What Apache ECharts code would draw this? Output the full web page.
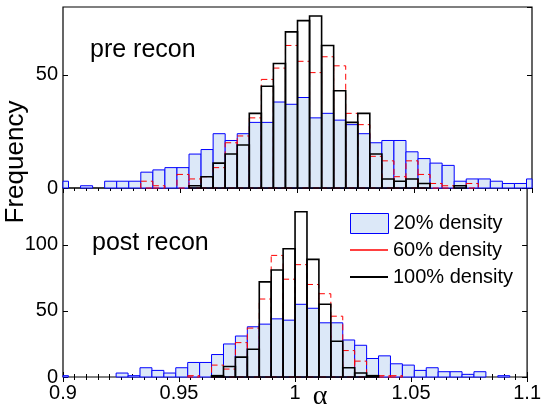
<!DOCTYPE html>
<html>
<head>
<meta charset="utf-8">
<script src="https://cdn.jsdelivr.net/npm/echarts@6/dist/echarts.min.js"></script>
<style>
  html, body { margin: 0; padding: 0; background: #fff; }
  #chart { width: 544px; height: 410px; }
</style>
</head>
<body>
<div id="chart"></div>
<script>
// Histogram bins of the recovered BAO scale alpha (40 equal-width bins)
const binStart = 0.8972;
const binWidth = 0.00514;

// Pre-reconstruction counts per bin
const preDensity20  = [3,0,1,0,3,3,3,7,8,9,9,15,17,24,21,24,29,29,38,37,40,31,33,30,28,24,20,21,21,16,13,11,10,3,4,4,3,2,2,4];
const preDensity60  = [0,0,0,0,0,0,0,3,1,0,6,4,5,9,20,23,31,48,53,63,56,51,58,54,33,28,14,12,5,12,6,2,1,0,2,0,0,0,0,0];
const preDensity100 = [0,0,0,0,0,0,0,0,0,0,0,1,5,11,15,19,33,45,55,69,74,76,63,43,29,33,15,4,3,4,2,0,0,1,0,0,0,0,0,0];

// Post-reconstruction counts per bin
const postDensity20  = [1,0,0,0,0,3,1,7,5,3,7,11,11,17,25,31,38,40,44,43,55,52,41,41,28,24,14,16,10,9,5,7,4,4,2,4,0,1,0,0];
const postDensity60  = [0,0,0,0,0,0,0,0,0,0,0,1,0,9,6,26,37,59,92,74,85,70,63,46,20,12,1,1,1,0,0,0,0,0,0,0,0,0,0,0];
const postDensity100 = [0,0,0,0,0,0,0,0,0,0,0,0,0,1,8,15,21,72,81,97,125,89,55,27,7,3,1,0,0,0,0,0,0,0,0,0,0,0,0,0];

const seriesNames = ['20% density', '60% density', '100% density'];
const panelLabels = ['pre recon', 'post recon'];
const xTicks = { min: 0.9, max: 1.1, step: 0.05 };

const FONT = 'Liberation Sans, Arial, Helvetica, sans-serif';

function toBins(counts) {
  return counts.map(function (c, i) {
    const lo = binStart + i * binWidth;
    return [lo, lo + binWidth, c];
  });
}

const styles = [
  { fill: '#dce8f8', stroke: '#0000ff', lineWidth: 1 },
  { fill: 'none', stroke: '#ff0000', lineWidth: 1, lineDash: [6, 4] },
  { fill: 'none', stroke: '#000000', lineWidth: 1.6 }
];
const legendColors = [
  { color: '#dce8f8', borderColor: '#0000ff', borderWidth: 1 },
  { color: '#ff0000', borderColor: '#ff0000', borderWidth: 0 },
  { color: '#000000', borderColor: '#000000', borderWidth: 0 }
];

function barRenderer(style) {
  return function (params, api) {
    const c = api.value(2);
    if (!c) return null;
    const p0 = api.coord([api.value(0), c]);
    const p1 = api.coord([api.value(1), 0]);
    const cs = params.coordSys;
    const shape = echarts.graphic.clipRectByRect(
      { x: p0[0], y: p0[1], width: p1[0] - p0[0], height: p1[1] - p0[1] },
      { x: cs.x, y: cs.y, width: cs.width, height: cs.height }
    );
    if (!shape) return null;
    return { type: 'rect', shape: shape, style: style };
  };
}

function histSeries(counts, k, panel) {
  return {
    type: 'custom',
    name: seriesNames[k],
    xAxisIndex: panel * 2,
    yAxisIndex: panel * 2,
    renderItem: barRenderer(styles[k]),
    itemStyle: legendColors[k],
    encode: { x: [0, 1], y: 2 },
    data: toBins(counts),
    silent: true,
    animation: false
  };
}

function xAxis(grid, pos, labels, ticks) {
  return {
    type: 'value', gridIndex: grid, position: pos,
    min: xTicks.min, max: xTicks.max, interval: xTicks.step,
    axisLine: { show: false },
    axisTick: { show: ticks, inside: true, length: 5, lineStyle: { color: '#000' } },
    minorTick: { show: ticks, splitNumber: 10, length: 3, lineStyle: { color: '#000' } },
    axisLabel: { show: labels, margin: 6, fontSize: 20, fontFamily: FONT, color: '#000' },
    splitLine: { show: false }
  };
}

function yAxis(grid, pos, max, labels) {
  return {
    type: 'value', gridIndex: grid, position: pos,
    min: 0, max: max, interval: 50,
    axisLine: { show: false },
    axisTick: { show: true, inside: true, length: 5, lineStyle: { color: '#000' } },
    axisLabel: { show: labels, margin: 5, fontSize: 20, fontFamily: FONT, color: '#000', showMaxLabel: false },
    splitLine: { show: false }
  };
}

function legendRow(k, top, h) {
  return {
    data: [{ name: seriesNames[k], itemStyle: legendColors[k] }],
    left: 350, top: top, padding: 0,
    itemWidth: 38, itemHeight: h, icon: 'rect', selectedMode: false,
    textStyle: { fontSize: 20, fontFamily: FONT, color: '#000' }
  };
}

const chart = echarts.init(document.getElementById('chart'), null, { renderer: 'canvas' });

chart.setOption({
  animation: false,
  backgroundColor: '#ffffff',
  grid: [
    { left: 63, right: 12, top: 7, height: 181, show: true, borderColor: '#000', borderWidth: 1.2, backgroundColor: 'transparent' },
    { left: 63, right: 12, top: 188, height: 189, show: true, borderColor: '#000', borderWidth: 1.2, backgroundColor: 'transparent' }
  ],
  xAxis: [
    xAxis(0, 'bottom', false, false),
    xAxis(0, 'top', false, true),
    xAxis(1, 'bottom', true, true),
    xAxis(1, 'top', false, true)
  ],
  yAxis: [
    yAxis(0, 'left', 80, true),
    yAxis(0, 'right', 80, false),
    yAxis(1, 'left', 143, true),
    yAxis(1, 'right', 143, false)
  ],
  title: [
    { text: panelLabels[0], left: 90, top: 38, padding: 0,
      textStyle: { fontSize: 25, fontWeight: 'normal', fontFamily: FONT, color: '#000' } },
    { text: panelLabels[1], left: 92, top: 231, padding: 0,
      textStyle: { fontSize: 25, fontWeight: 'normal', fontFamily: FONT, color: '#000' } }
  ],
  legend: [
    legendRow(0, 213, 20),
    legendRow(1, 240, 1.5),
    legendRow(2, 267, 2)
  ],
  graphic: [
    { type: 'text', x: 16, y: 162, rotation: Math.PI / 2, silent: true,
      style: { text: 'Frequency', fontSize: 26, fontFamily: FONT, fill: '#000', align: 'center', verticalAlign: 'middle' } },
    { type: 'text', x: 320, y: 397, silent: true,
      style: { text: 'α', fontSize: 28, fontFamily: 'Liberation Serif, DejaVu Serif, serif', fill: '#000', align: 'center', verticalAlign: 'middle' } }
  ],
  series: [
    histSeries(preDensity20, 0, 0),
    histSeries(preDensity60, 1, 0),
    histSeries(preDensity100, 2, 0),
    histSeries(postDensity20, 0, 1),
    histSeries(postDensity60, 1, 1),
    histSeries(postDensity100, 2, 1)
  ]
});
</script>
</body>
</html>
